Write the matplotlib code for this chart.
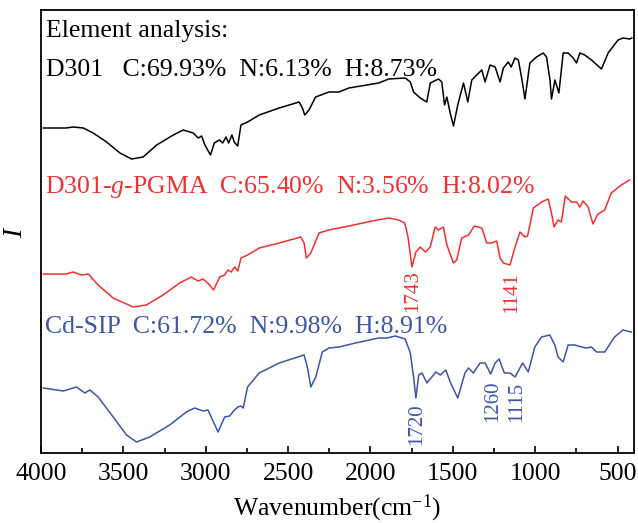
import matplotlib
matplotlib.use("Agg")
import matplotlib.pyplot as plt
from matplotlib.ticker import MultipleLocator

plt.rcParams['font.family'] = ['Liberation Serif', 'DejaVu Serif']
plt.rcParams['mathtext.fontset'] = 'custom'
plt.rcParams['mathtext.rm'] = 'Liberation Serif'
plt.rcParams['mathtext.it'] = 'Liberation Serif:italic'

# ---- data (wavenumber cm^-1, intensity in arbitrary offset units) ----
d301_wn = [3986, 3850, 3804, 3743, 3683, 3602, 3521, 3450, 3380, 3298, 3197, 3137, 3076, 3046, 3025,
           3005, 2971, 2948, 2917, 2897, 2877, 2861, 2841, 2827, 2806, 2786, 2746, 2675, 2554,
           2433, 2413, 2399, 2373, 2333, 2252, 2191, 2131, 1950, 1889, 1789, 1758, 1738, 1698,
           1658, 1637, 1587, 1567, 1550, 1536, 1516, 1496, 1470, 1435, 1409, 1385, 1355, 1324,
           1304, 1274, 1243, 1213, 1193, 1163, 1146, 1122, 1102, 1082, 1062, 1032, 992, 951,
           931, 910, 901, 880, 856, 830, 800, 769, 749, 729, 699, 658, 598, 557, 497, 467, 427, 413]
d301_i = [325, 325, 326, 325, 320, 311, 300, 294, 296, 308, 318, 323, 320, 315, 317,
          308, 298, 310, 313, 310, 316, 310, 318, 311, 307, 328, 331, 338, 345,
          351, 345, 338, 343, 356, 361, 361, 365, 370, 374, 375, 371, 361, 355,
          351, 370, 374, 371, 348, 356, 340, 327, 348, 370, 351, 373, 378, 383,
          371, 388, 386, 371, 385, 391, 386, 395, 393, 375, 354, 390, 396, 400,
          396, 373, 354, 373, 360, 400, 400, 395, 390, 400, 398, 393, 384, 400, 413, 415, 414, 415]

pgma_wn = [3986, 3845, 3804, 3754, 3713, 3653, 3562, 3441, 3360, 3259, 3158, 3087, 3046, 3016,
           2976, 2952, 2915, 2885, 2865, 2845, 2825, 2805, 2786, 2746, 2675, 2554, 2423, 2403,
           2389, 2362, 2312, 2252, 2191, 2131, 1990, 1889, 1829, 1792, 1772, 1748, 1724, 1698,
           1667, 1637, 1607, 1587, 1557, 1536, 1496, 1476, 1446, 1405, 1369, 1324, 1294, 1264,
           1234, 1213, 1193, 1153, 1122, 1092, 1062, 1046, 1011, 961, 921, 901, 885, 861, 841,
           817, 780, 749, 729, 709, 679, 649, 619, 578, 538, 477, 427]
pgma_i = [179, 179, 181, 178, 179, 168, 155, 146, 148, 158, 170, 176, 172, 174,
          168, 163, 176, 178, 183, 181, 186, 182, 195, 198, 205, 210, 216, 210,
          195, 200, 220, 223, 225, 227, 232, 235, 233, 230, 216, 186, 201, 206,
          201, 206, 226, 223, 226, 208, 190, 193, 215, 218, 227, 225, 210, 210,
          212, 195, 190, 188, 206, 221, 216, 217, 245, 251, 254, 240, 226, 233, 231,
          257, 251, 251, 246, 252, 246, 229, 239, 243, 260, 268, 273]

cdsip_wn = [3986, 3865, 3784, 3734, 3703, 3653, 3562, 3481, 3420, 3340, 3219, 3118, 3068, 3016,
            2986, 2925, 2885, 2855, 2825, 2805, 2786, 2772, 2746, 2675, 2554, 2403, 2383, 2362,
            2332, 2292, 2252, 2191, 2091, 1950, 1899, 1849, 1789, 1758, 1738, 1724, 1707, 1687,
            1657, 1603, 1576, 1542, 1516, 1470, 1426, 1405, 1375, 1335, 1304, 1270, 1243, 1219,
            1187, 1153, 1122, 1076, 1042, 1002, 961, 911, 881, 861, 830, 800, 760, 719, 689, 658,
            628, 578, 518, 467, 417]
cdsip_i = [65, 62, 66, 60, 63, 56, 36, 18, 11, 16, 28, 41, 45, 42,
           43, 21, 36, 37, 43, 46, 47, 45, 66, 80, 90, 98, 86, 66,
           76, 101, 105, 106, 110, 115, 115, 117, 114, 100, 76, 55, 78, 80,
           70, 81, 78, 83, 71, 55, 80, 85, 80, 90, 90, 79, 90, 94,
           80, 80, 76, 90, 81, 106, 116, 118, 108, 96, 91, 108, 108, 106, 105, 106,
           101, 101, 116, 123, 121]

series_labels = ["D301   C:69.93%  N:6.13%  H:8.73%",
                 "D301-$\\mathit{g}$-PGMA  C:65.40%  N:3.56%  H:8.02%",
                 "Cd-SIP  C:61.72%  N:9.98%  H:8.91%"]
peak_labels = ["1743", "1141", "1720", "1260", "1115"]
xticks = [4000, 3500, 3000, 2500, 2000, 1500, 1000, 500]

black = "#000000"
red = "#F03030"
blue = "#3B55A8"

fig = plt.figure(figsize=(6.38, 5.23), dpi=100)
ax = fig.add_axes([41/638, 1-453/523, 593/638, 443/523])

ax.plot(d301_wn, d301_i, color=black, lw=1.1)
ax.plot(pgma_wn, pgma_i, color=red, lw=1.1)
ax.plot(cdsip_wn, cdsip_i, color=blue, lw=1.1)

ax.set_xlim(4000, 400)
ax.set_ylim(0, 443)
ax.set_xticks(xticks)
ax.xaxis.set_minor_locator(MultipleLocator(250))
ax.set_yticks([])
ax.tick_params(axis='x', which='major', direction='in', length=5, width=1.2,
               labelsize=18.5, pad=7, top=False)
ax.tick_params(axis='x', which='minor', direction='in', length=3.5, width=1.2, top=False)
for s in ax.spines.values():
    s.set_linewidth(1.3)

ax.set_xlabel("Wavenumber(cm$^{-1}$)", fontsize=18.5, labelpad=6)
ax.set_ylabel("$I$", fontsize=20, labelpad=9)

fs = 18.5
ax.text(0.009, 0.939, "Element analysis:", transform=ax.transAxes, fontsize=fs,
        color=black, ha='left', va='baseline')
ax.text(0.009, 0.851, series_labels[0], transform=ax.transAxes, fontsize=fs,
        color=black, ha='left', va='baseline')
ax.text(0.007, 0.586, series_labels[1], transform=ax.transAxes, fontsize=fs,
        color=red, ha='left', va='baseline')
ax.text(0.007, 0.272, series_labels[2], transform=ax.transAxes, fontsize=fs,
        color=blue, ha='left', va='baseline')

afs = 15
ax.text(1743, 183, peak_labels[0], rotation=90, color=red, fontsize=afs, ha='center', va='top')
ax.text(1141, 181, peak_labels[1], rotation=90, color=red, fontsize=afs, ha='center', va='top')
ax.text(1720, 50, peak_labels[2], rotation=90, color=blue, fontsize=afs, ha='center', va='top')
ax.text(1260, 73, peak_labels[3], rotation=90, color=blue, fontsize=afs, ha='center', va='top')
ax.text(1115, 71, peak_labels[4], rotation=90, color=blue, fontsize=afs, ha='center', va='top')

fig.savefig("out.png", dpi=100)
